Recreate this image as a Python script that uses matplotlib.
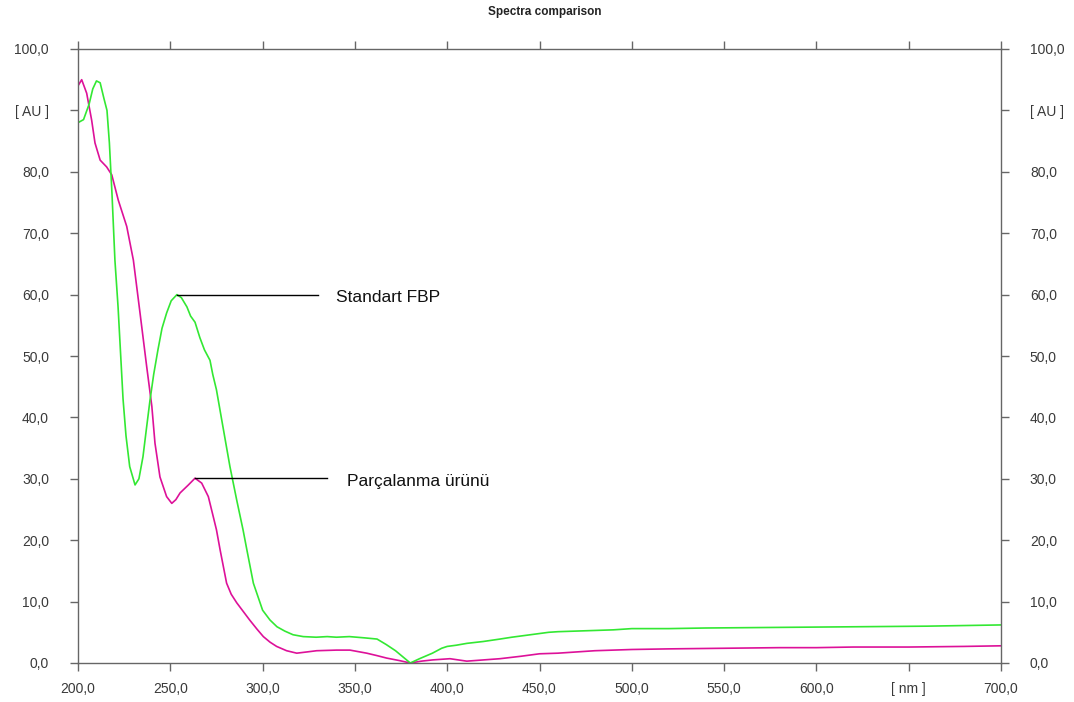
import numpy as np
import matplotlib.pyplot as plt

plt.rcParams['font.family'] = ['Liberation Sans', 'DejaVu Sans']

# Standart FBP spectrum (wavelength nm, absorbance AU)
fbp_nm = [200, 203, 206, 208, 210, 212, 214, 215.7, 217, 218.4, 220, 221.7, 224.4, 226, 228,
          230.9, 233, 235.2, 237, 239, 241, 243.3, 245.5, 248, 250.5, 253.6, 256, 259, 261,
          263.4, 266, 268.5, 271.5, 273, 275, 278.5, 282.3, 286, 289.4, 291.5, 295, 300, 304,
          307.8, 312, 316.5, 322, 329, 335, 340, 347, 355, 362, 367, 372, 376, 380, 385, 392,
          397, 400, 405, 410.7, 419.5, 428.6, 435, 445, 450, 455, 460, 470, 480, 490, 500,
          520, 540, 560, 580, 600, 620, 640, 660, 680, 700]
fbp_au = [88.0, 88.5, 91.0, 93.5, 94.8, 94.5, 92.0, 90.0, 84.7, 76.5, 65.6, 58.0, 43.0, 37.0, 32.0,
          29.0, 30.0, 33.6, 38.0, 42.8, 47.0, 51.0, 54.5, 57.0, 59.0, 60.0, 59.5, 58.0, 56.5,
          55.5, 53.0, 51.0, 49.3, 47.0, 44.5, 38.5, 32.0, 26.5, 21.7, 18.4, 13.0, 8.6, 7.0,
          5.9, 5.2, 4.6, 4.3, 4.2, 4.3, 4.2, 4.3, 4.1, 3.9, 3.0, 2.0, 1.0, 0.0, 0.7, 1.6,
          2.4, 2.7, 2.9, 3.2, 3.5, 3.9, 4.2, 4.6, 4.8, 5.0, 5.1, 5.2, 5.3, 5.4, 5.6,
          5.6, 5.7, 5.75, 5.8, 5.85, 5.9, 5.95, 6.0, 6.1, 6.2]

# Parcalanma urunu (degradation product) spectrum
deg_nm = [200, 202, 204.7, 207.4, 209.2, 212, 215.5, 218.3, 221.8, 226.4, 230, 233.6, 237.2,
          240, 241.7, 244.4, 248, 250.8, 253, 255.3, 259.8, 263.4, 267, 270.6, 273.3, 275,
          277, 280.5, 283, 286, 290, 293, 297, 300.4, 304, 307.6, 313, 318.5, 324, 329.3,
          340, 347.3, 356.4, 362, 367.2, 374, 380, 386, 392, 401.5, 410.6, 419.6, 428.6,
          440, 450, 460, 470, 480, 500, 520, 550, 580, 600, 620, 650, 680, 700]
deg_au = [94.0, 95.0, 92.8, 88.4, 84.7, 81.9, 80.8, 79.5, 75.4, 71.1, 65.6, 57.0, 48.3,
          41.8, 35.8, 30.3, 27.1, 26.0, 26.6, 27.7, 29.0, 30.1, 29.3, 27.1, 23.8, 21.7,
          18.4, 13.0, 11.2, 9.8, 8.2, 7.0, 5.5, 4.3, 3.4, 2.7, 2.0, 1.6, 1.8, 2.0,
          2.1, 2.1, 1.6, 1.2, 0.8, 0.4, 0.0, 0.3, 0.5, 0.7, 0.3, 0.5, 0.7,
          1.1, 1.5, 1.6, 1.8, 2.0, 2.2, 2.3, 2.4, 2.5, 2.5, 2.6, 2.6, 2.7, 2.8]

series_labels = ['Standart FBP', 'Parçalanma ürünü']
x_ticks = [200, 250, 300, 350, 400, 450, 500, 550, 600, 650, 700]
y_ticks = [0, 10, 20, 30, 40, 50, 60, 70, 80, 90, 100]

green = '#33e833'
magenta = '#dd1199'
axis_grey = '#666666'
label_grey = '#3a3a3a'

fig = plt.figure(figsize=(10.74, 7.02), dpi=100)
ax = fig.add_axes([78 / 1074, 1 - 663 / 702, (1001 - 78) / 1074, (663 - 49) / 702])

ax.plot(deg_nm, deg_au, color=magenta, lw=1.2)
ax.plot(fbp_nm, fbp_au, color=green, lw=1.2)

ax.set_xlim(200, 700)
ax.set_ylim(0, 100)

# callout lines from the main peaks
fbp_nm_a, fbp_au_a = np.array(fbp_nm), np.array(fbp_au)
m = (fbp_nm_a > 240) & (fbp_nm_a < 280)
i = np.argmax(fbp_au_a[m])
px, py = fbp_nm_a[m][i], fbp_au_a[m][i]
ax.plot([px, 330], [py, py], color='black', lw=1.0)
ax.text(340, py - 0.5, series_labels[0], fontsize=12.5, va='center', ha='left', color='#111111')

deg_nm_a, deg_au_a = np.array(deg_nm), np.array(deg_au)
m = (deg_nm_a > 255) & (deg_nm_a < 280)
i = np.argmax(deg_au_a[m])
px, py = deg_nm_a[m][i], deg_au_a[m][i]
ax.plot([px, 335], [py, py], color='black', lw=1.0)
ax.text(345.5, py - 0.6, series_labels[1], fontsize=12.5, va='center', ha='left', color='#111111')

# tick labels with comma decimals, unit in place of one tick
def fmt(v):
    return f'{v:.1f}'.replace('.', ',')

ax.set_xticks(x_ticks)
ax.set_xticklabels(['[ nm ]' if v == 650 else fmt(v) for v in x_ticks])
ax.set_yticks(y_ticks)
ax.set_yticklabels(['[ AU ]' if v == 90 else fmt(v) for v in y_ticks])

ax.tick_params(axis='both', direction='out', length=5.8, width=1.0, color=axis_grey,
               labelsize=10, labelcolor=label_grey)
ax.tick_params(axis='y', left=True, right=True, labelleft=True, labelright=True, pad=15)
ax.tick_params(axis='x', bottom=True, top=True, labelbottom=True, labeltop=False, pad=8)

for s in ax.spines.values():
    s.set_color(axis_grey)
    s.set_linewidth(1.0)

fig.text(0.507, 1 - 12.5 / 702, 'Spectra comparison', ha='center', va='center',
         fontsize=8.5, fontweight='bold', color='#222222')

fig.savefig('out.png', dpi=100)
